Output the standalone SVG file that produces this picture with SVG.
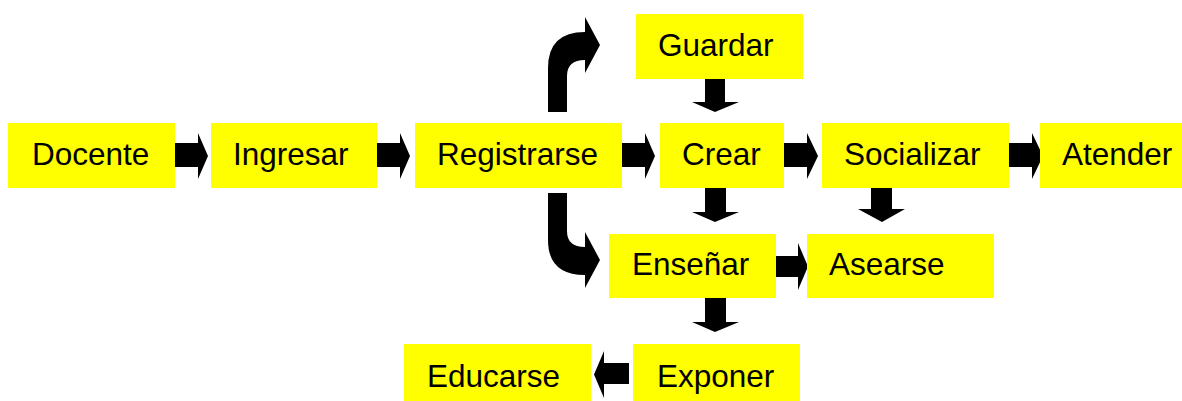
<svg xmlns="http://www.w3.org/2000/svg" width="1182" height="401" viewBox="0 0 1182 401">
<style>
.box{fill:#FFFF00;stroke:none}
.lbl{font-family:"Liberation Sans",Arial,sans-serif;font-size:31.5px;fill:#000}
.arr{fill:#000;stroke:none}
</style>
<rect width="1182" height="401" fill="#fff"/>
<g id="connectors">
<path class="arr" d="M173,143 H198 V133 L208,156 L198,179 V167 H173 Z"/>
<path class="arr" d="M375,143 H400 V133 L410,156 L400,179 V167 H375 Z"/>
<path class="arr" d="M620,143 H645 V133 L655,156 L645,179 V167 H620 Z"/>
<path class="arr" d="M784,143 H807 V133 L818,156 L807,179 V167 H784 Z"/>
<path class="arr" d="M1009,143 H1032 V133 L1043,156 L1032,179 V167 H1009 Z"/>
<path class="arr" d="M774,256 H798 V243 L808,266.5 L798,290 V277 H774 Z"/>
<path class="arr" d="M629,363 H604 V351 L594,374.5 L604,398 V384 H629 Z"/>
<path class="arr" d="M705,77 V102 H692 L715,112 L739,102 H725 V77 Z"/>
<path class="arr" d="M705,187 V212 H692 L715,222 L739,212 H726 V187 Z"/>
<path class="arr" d="M705,297 V322 H692 L715,332 L739,322 H726 V297 Z"/>
<path class="arr" d="M871,187 V209 H858 L882,222 L905,209 H892 V187 Z"/>
<path class="arr" d="M548,112 L548,68 Q548,32 585,32 L585,17 L600,45 L585,73 L585,60 Q567,60 567,76 L567,112 Z"/>
<path class="arr" d="M548,193 L548,240 Q548,275 585,275 L585,288 L600,260 L585,232 L585,247 Q567,247 567,231 L567,193 Z"/>
</g>
<g id="docente"><rect class="box" x="8" y="123" width="167" height="65"/><text class="lbl" x="32" y="165">Docente</text></g>
<g id="ingresar"><rect class="box" x="211" y="123" width="166" height="65"/><text class="lbl" x="233" y="165">Ingresar</text></g>
<g id="registrarse"><rect class="box" x="415" y="123" width="207" height="65"/><text class="lbl" x="437" y="165">Registrarse</text></g>
<g id="guardar"><rect class="box" x="636" y="14" width="167" height="65"/><text class="lbl" x="658" y="56">Guardar</text></g>
<g id="crear"><rect class="box" x="660" y="123" width="124" height="65"/><text class="lbl" x="682" y="165">Crear</text></g>
<g id="socializar"><rect class="box" x="822" y="123" width="187" height="65"/><text class="lbl" x="844" y="165">Socializar</text></g>
<g id="atender"><rect class="box" x="1040" y="123" width="142" height="65"/><text class="lbl" x="1062" y="165">Atender</text></g>
<g id="ensenar"><rect class="box" x="609" y="234" width="167" height="64"/><text class="lbl" x="632" y="275">Enseñar</text></g>
<g id="asearse"><rect class="box" x="807" y="234" width="187" height="64"/><text class="lbl" x="829" y="275">Asearse</text></g>
<g id="exponer"><rect class="box" x="633" y="344" width="167" height="65"/><text class="lbl" x="657" y="387">Exponer</text></g>
<g id="educarse"><rect class="box" x="404" y="344" width="187" height="65"/><text class="lbl" x="427" y="387">Educarse</text></g>
</svg>
